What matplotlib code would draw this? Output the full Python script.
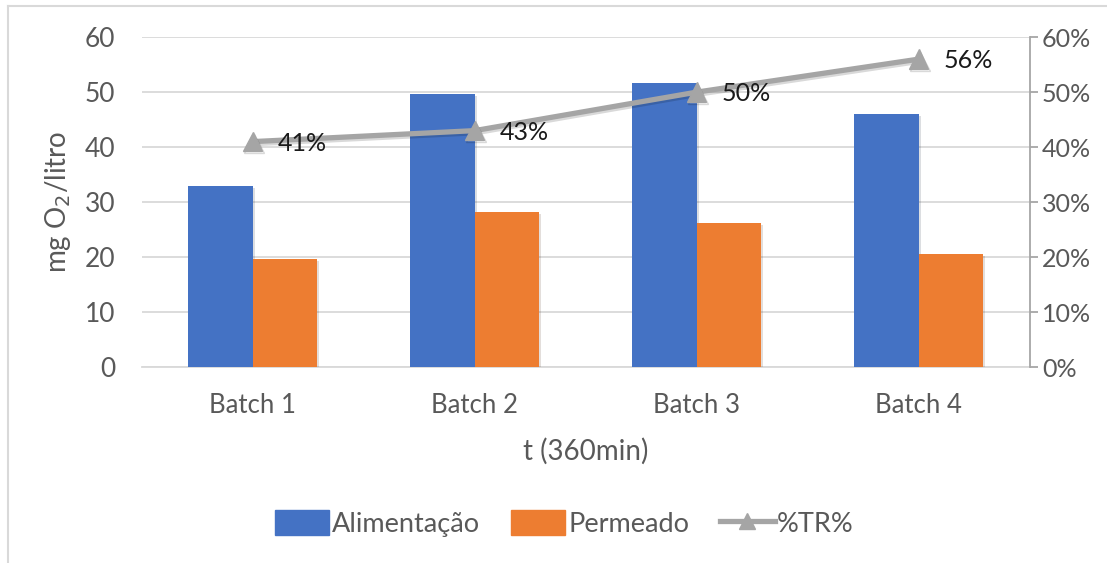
import matplotlib.pyplot as plt
import matplotlib.patheffects as pe
from matplotlib.lines import Line2D
from matplotlib.patches import Patch
from matplotlib.ticker import FuncFormatter

plt.rcParams['font.family'] = ['Lato', 'DejaVu Sans']

batches = ["Batch 1", "Batch 2", "Batch 3", "Batch 4"]
alimentacao = [32.9, 49.6, 51.7, 46.1]
permeado = [19.6, 28.2, 26.2, 20.5]
tr = [0.41, 0.43, 0.50, 0.56]
tr_labels = ["41%", "43%", "50%", "56%"]

BLUE = "#4472C4"
ORANGE = "#ED7D31"
GREY = "#A5A5A5"
TXT = "#595959"

fig = plt.figure(figsize=(11.07, 5.63), dpi=100)
ax = fig.add_axes([0.128, 0.348, 0.802, 0.586])
ax2 = ax.twinx()

x = list(range(len(batches)))
w = 0.29
shadow = [pe.SimplePatchShadow(offset=(1.5, -1.5), alpha=0.15), pe.Normal()]
b1 = ax.bar([i - w / 2 for i in x], alimentacao, w, color=BLUE, zorder=3)
b2 = ax.bar([i + w / 2 for i in x], permeado, w, color=ORANGE, zorder=3)
for r in list(b1) + list(b2):
    r.set_path_effects(shadow)

ax.set_xlim(-0.5, 3.5)
ax.set_ylim(0, 60)
ax.set_yticks(range(0, 61, 10))
ax.grid(axis='y', color='#D9D9D9', linewidth=1.3, zorder=0)
ax.set_axisbelow(True)
for s in ['top', 'right', 'left']:
    ax.spines[s].set_visible(False)
ax.spines['bottom'].set_color('#D9D9D9')
ax.spines['bottom'].set_linewidth(1.3)
ax.set_xticks(x)
ax.set_xticklabels(batches)
ax.tick_params(axis='x', length=0, pad=19, labelsize=18.5, labelcolor=TXT)
ax.tick_params(axis='y', length=0, pad=19, labelsize=19, labelcolor=TXT)
ax.set_ylabel("mg O$_2$/litro", fontsize=20, color=TXT)
ax.yaxis.set_label_coords(-0.077, 0.5)
ax.set_xlabel("t (360min)", fontsize=20, color=TXT, labelpad=14)

# right axis: removal percentage
ax2.plot(x, tr, color=GREY, linewidth=3.8, marker='^', markersize=14,
         zorder=5, solid_capstyle='round',
         path_effects=[pe.SimpleLineShadow(offset=(1, -1.5), alpha=0.15), pe.Normal()])
for i, v in enumerate(tr):
    ax2.annotate(tr_labels[i], (x[i], v), xytext=(18, -1), textcoords='offset points',
                 ha='left', va='center', fontsize=18, color='#1a1a1a', zorder=7)
ax2.set_ylim(0, 0.6)
ax2.set_yticks([i / 10 for i in range(7)])
ax2.yaxis.set_major_formatter(FuncFormatter(lambda v, p: f"{v * 100:.0f}%"))
for s in ['top', 'left', 'bottom']:
    ax2.spines[s].set_visible(False)
ax2.spines['right'].set_color('#A6A6A6')
ax2.spines['right'].set_linewidth(1.3)
ax2.tick_params(axis='y', length=6, width=1.3, color='#A6A6A6', pad=3,
                labelsize=18, labelcolor=TXT)

handles = [Patch(color=BLUE), Patch(color=ORANGE),
           Line2D([0], [0], color=GREY, linewidth=3.8, marker='^', markersize=12)]
fig.legend(handles, ["Alimentação", "Permeado", "%TR%"], loc='center',
           bbox_to_anchor=(0.51, 0.07), ncol=3, frameon=False, fontsize=19.5,
           handlelength=2.0, handleheight=1.0, handletextpad=0.1, columnspacing=1.15,
           labelcolor=TXT)

# chart frame
fig.add_artist(Line2D([0.0075, 0.0075], [0, 0.99], color='#D9D9D9', linewidth=1.5,
                      transform=fig.transFigure))
fig.add_artist(Line2D([0.0075, 1.0], [0.99, 0.99], color='#D9D9D9', linewidth=1.5,
                      transform=fig.transFigure))

fig.savefig("out.png", dpi=100)
